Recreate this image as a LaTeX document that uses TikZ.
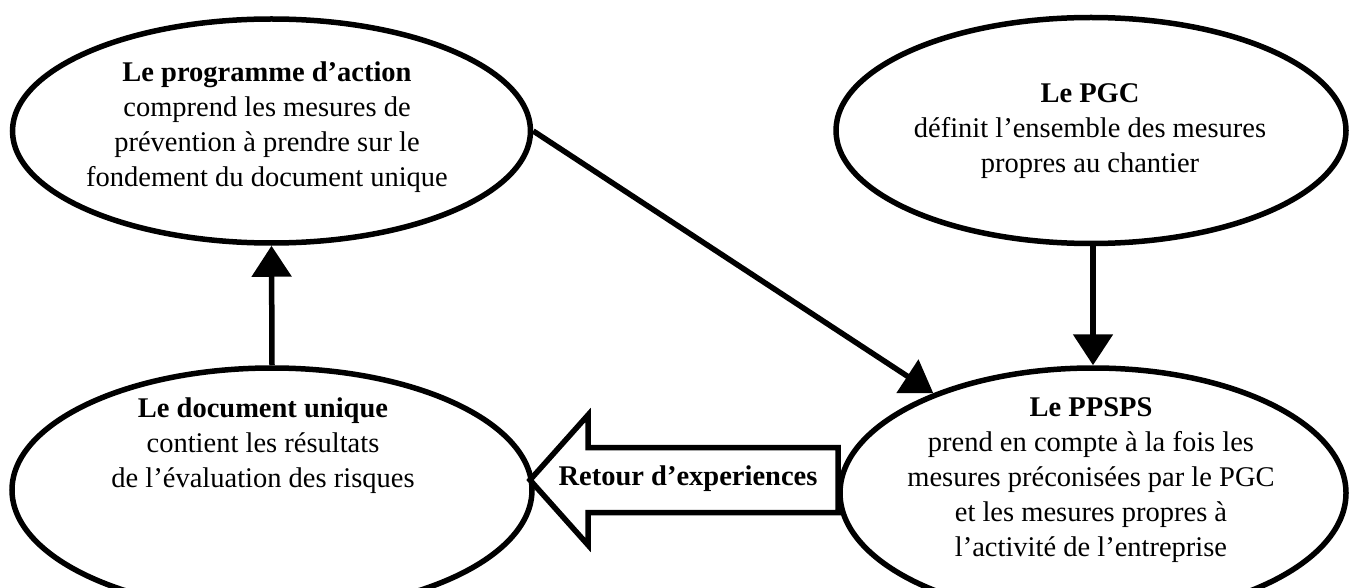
\documentclass[tikz,border=0pt]{standalone}
\usepackage{fontspec}
\setmainfont{Liberation Serif}
\usetikzlibrary{shapes.geometric,arrows.meta,calc}
\begin{document}
\begin{tikzpicture}[x=1pt,y=-1pt,
  bubble/.style={draw, ellipse, line width=5.5pt, inner sep=0pt},
  txt/.style={align=center, font=\fontsize{28.5}{35}\selectfont, text=black, inner sep=0pt},
  link/.style={line width=5.5pt, -{Triangle[length=31pt,width=39pt]}},
  hollow/.style={line width=5.5pt, line join=miter}]
\useasboundingbox (0,0) rectangle (1349,588);
\clip (0,0) rectangle (1349,588);
% ellipses
\node[bubble, minimum width=518pt, minimum height=224pt] (prog) at (271.5,131) {};
\node[bubble, minimum width=510pt, minimum height=226pt] (pgc) at (1091,130.5) {};
\node[bubble, minimum width=520pt, minimum height=244pt] (docu) at (272,490) {};
\node[bubble, minimum width=506pt, minimum height=250pt] (ppsps) at (1093,493) {};
% texts
\node[txt] (tprog) at (267,127) {\textbf{Le programme d’action}\\comprend les mesures de\\prévention à prendre sur le\\fondement du document unique};
\node[txt] (tpgc) at (1090,131) {\textbf{Le PGC}\\définit l’ensemble des mesures\\propres au chantier};
\node[txt] (tdocu) at (263,446) {\textbf{Le document unique}\\contient les résultats\\de l’évaluation des risques};
\node[txt] (tppsps) at (1091,480) {\textbf{Le PPSPS}\\prend en compte à la fois les\\mesures préconisées par le PGC\\et les mesures propres à\\l’activité de l’entreprise};
% connectors
\draw[link] (docu.north) -- (prog.south);
\draw[link] (pgc.south -| ppsps.north) -- (ppsps.north);
\draw[link] (prog.east) -- (ppsps.148);
% hollow arrow
\coordinate (rtip) at (530,480);
\coordinate (rend) at (838,480);
\draw[hollow] (rtip) -- ($(rtip)+(58,-65)$) -- ($(rtip)+(58,-32.5)$) -- ($(rend)+(0,-32.5)$)
  -- ($(rend)+(0,32.5)$) -- ($(rtip)+(58,32.5)$) -- ($(rtip)+(58,65)$) -- cycle;
\node[txt, font=\fontsize{28.5}{35}\selectfont\bfseries] (retour) at (688,479) {Retour d’experiences};
\end{tikzpicture}
\end{document}
